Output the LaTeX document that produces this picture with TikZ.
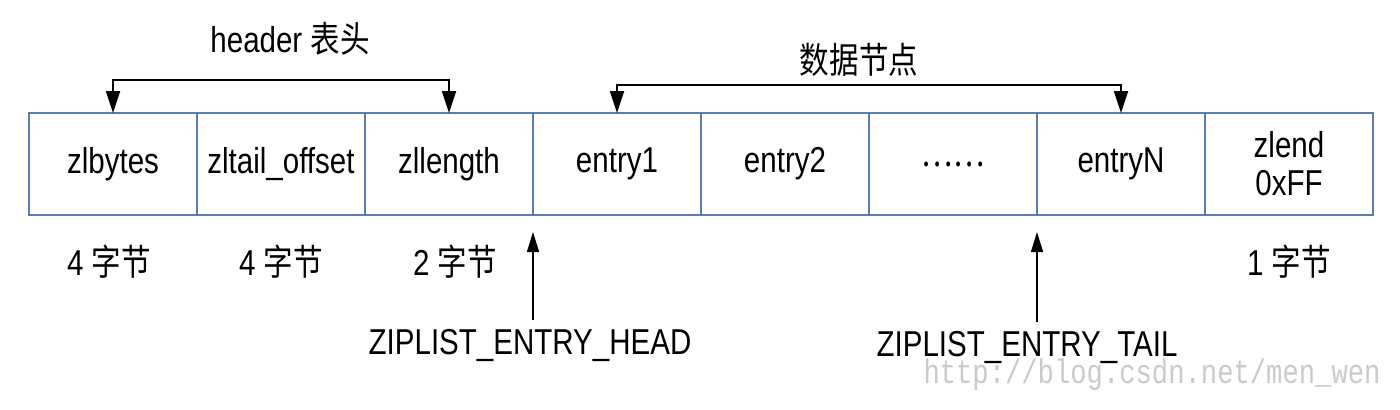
\documentclass[tikz,border=0pt]{standalone}
\usepackage{fontspec}
\setmainfont{Liberation Sans}[FakeStretch=0.82]
\newfontfamily\cjk{Noto Sans CJK SC}[FakeStretch=0.82]
\newfontfamily\wmfont{Liberation Mono}[FakeStretch=0.8]
\usetikzlibrary{arrows.meta,positioning}
\definecolor{edge}{HTML}{5B7DB3}
\definecolor{wmark}{HTML}{CACACA}
\newcommand{\bytes}[1]{#1 \cjk{字节}}
\tikzset{
  cell/.style={draw=edge,line width=0.75pt,minimum width=84pt,minimum height=51pt,inner sep=0pt,outer sep=0pt,align=center,font=\fontsize{18}{19}\selectfont},
  lbl/.style={inner sep=0pt,font=\fontsize{18}{19}\selectfont},
  br/.style={{Triangle[length=11pt,width=7pt]}-{Triangle[length=11pt,width=7pt]},line width=1pt},
  upar/.style={-{Triangle[length=10pt,width=6pt]},line width=0.7pt},
}
\begin{document}
\begin{tikzpicture}[node distance=0pt]
\useasboundingbox (0,0) rectangle (700pt,204.5pt);
% the list cells
\node[cell] (zb) at (56.5pt,122.5pt) {zlbytes};
\node[cell,right=of zb] (zt) {zltail\_offset};
\node[cell,right=of zt] (zl) {zllength};
\node[cell,right=of zl] (e1) {entry1};
\node[cell,right=of e1] (e2) {entry2};
\node[cell,right=of e2] (ed) {\cjk{……}};
\node[cell,right=of ed] (en) {entryN};
\node[cell,right=of en] (ze) {zlend\\0xFF};
% brackets on top
\coordinate (hl) at ([yshift=16.5pt]zb.north);
\coordinate (hr) at ([yshift=16.5pt]zl.north);
\coordinate (dl) at ([yshift=14pt]e1.north);
\coordinate (dr) at ([yshift=14pt]en.north);
\draw[br] (zb.north) -- (hl) -- (hr) -- (zl.north);
\draw[br] (e1.north) -- (dl) -- (dr) -- (en.north);
\path (hl) -- (hr) coordinate[midway] (hm);
\path (dl) -- (dr) coordinate[midway] (dm);
\node[lbl,above=12pt of hm,xshift=4.5pt] (hdr) {header \cjk{表头}};
\node[lbl,above=4pt of dm,xshift=-5pt] (data) {\cjk{数据节点}};
% sizes below
\node[lbl,below=15pt of zb,xshift=-2pt] (s1) {\bytes{4}};
\node[lbl,below=15pt of zt] (s2) {\bytes{4}};
\node[lbl,below=15pt of zl,xshift=3pt] (s3) {\bytes{2}};
\node[lbl,below=15pt of ze] (s8) {\bytes{1}};
% entry pointers
\coordinate (hp) at ([yshift=-8.5pt]e1.south west);
\coordinate (tp) at ([yshift=-8.5pt]en.south west);
\node[lbl] (head) at ([xshift=-1.5pt,yshift=-65pt]e1.south west) {ZIPLIST\_ENTRY\_HEAD};
\node[lbl] (tail) at ([xshift=-5pt,yshift=-66pt]en.south west) {ZIPLIST\_ENTRY\_TAIL};
\draw[upar] ([yshift=4pt]head.north -| hp) -- (hp);
\draw[upar] ([yshift=4pt]tail.north -| tp) -- (tp);
\node[text=wmark,font=\wmfont\fontsize{17}{17}\selectfont,inner sep=0pt] (wm) at (576pt,17pt) {http://blog.csdn.net/men\_wen};
\end{tikzpicture}
\end{document}
